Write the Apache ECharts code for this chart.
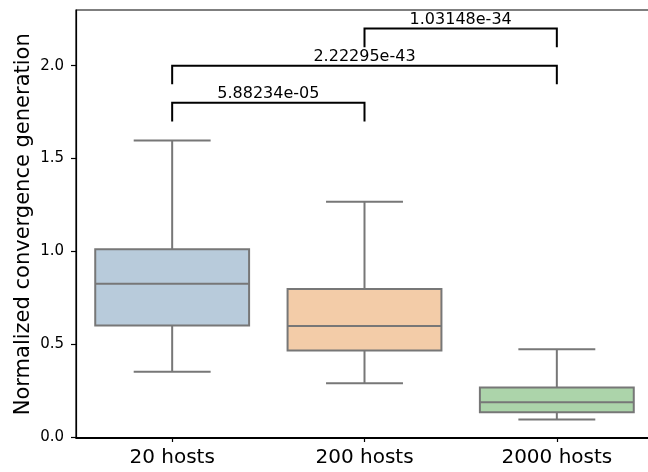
<!DOCTYPE html>
<html>
<head>
<meta charset="utf-8">
<script src="https://cdn.jsdelivr.net/npm/echarts@6/dist/echarts.min.js"></script>
<style>
html,body{margin:0;padding:0;background:#fff;}
#chart{width:648px;height:472px;}
</style>
</head>
<body>
<div id="chart"></div>
<script>
// ---- data ----
const categories = ['20 hosts', '200 hosts', '2000 hosts'];
const whiskerLow = [0.351, 0.289, 0.095];
const q1 = [0.600, 0.466, 0.134];
const median = [0.826, 0.598, 0.187];
const q3 = [1.011, 0.797, 0.267];
const whiskerHigh = [1.597, 1.267, 0.473];
const boxColors = ['#b8cbdb', '#f3cca8', '#acd4aa'];

const bracketFrom = [0, 0, 1];
const bracketTo = [1, 2, 2];
const bracketTop = [1.8, 2.0, 2.2];
const bracketLeg = [1.7, 1.9, 2.1];
const bracketLabels = ['5.88234e-05', '2.22295e-43', '1.03148e-34'];

const yTicks = [0, 0.5, 1.0, 1.5, 2.0];
const yMin = -0.008, yMax = 2.30;

// ---- chart ----
const FONT = 'DejaVu Sans';
const chart = echarts.init(document.getElementById('chart'), null, {renderer: 'canvas'});

const boxData = categories.map((c, i) => [i, whiskerLow[i], q1[i], median[i], q3[i], whiskerHigh[i]]);
const bracketData = bracketLabels.map((l, i) => [bracketFrom[i], bracketTo[i], bracketTop[i], bracketLeg[i]]);

const lineCol = '#777777';

function renderBox(params, api) {
  const idx = api.value(0);
  const lo = api.coord([idx, api.value(1)]);
  const b1 = api.coord([idx, api.value(2)]);
  const md = api.coord([idx, api.value(3)]);
  const b3 = api.coord([idx, api.value(4)]);
  const hi = api.coord([idx, api.value(5)]);
  const band = api.size([1, 0])[0];
  const bw = band * 0.8;
  const cw = bw / 2;
  const x = lo[0];
  const st = {stroke: lineCol, lineWidth: 2, fill: null};
  return {
    type: 'group',
    children: [
      {type: 'line', shape: {x1: x, y1: b1[1], x2: x, y2: lo[1]}, style: st},
      {type: 'line', shape: {x1: x, y1: b3[1], x2: x, y2: hi[1]}, style: st},
      {type: 'line', shape: {x1: x - cw / 2, y1: lo[1], x2: x + cw / 2, y2: lo[1]}, style: st},
      {type: 'line', shape: {x1: x - cw / 2, y1: hi[1], x2: x + cw / 2, y2: hi[1]}, style: st},
      {type: 'rect', shape: {x: x - bw / 2, y: b3[1], width: bw, height: b1[1] - b3[1]},
        style: {fill: boxColors[params.dataIndex], stroke: lineCol, lineWidth: 2}},
      {type: 'line', shape: {x1: x - bw / 2, y1: md[1], x2: x + bw / 2, y2: md[1]}, style: st}
    ]
  };
}

function renderBracket(params, api) {
  const a = api.value(0), b = api.value(1);
  const top = api.value(2), leg = api.value(3);
  const p1 = api.coord([a, leg]);
  const p2 = api.coord([a, top]);
  const p3 = api.coord([b, top]);
  const p4 = api.coord([b, leg]);
  return {
    type: 'group',
    children: [
      {type: 'polyline', shape: {points: [p1, p2, p3, p4]},
        style: {stroke: '#000', lineWidth: 2, fill: null}},
      {type: 'text', x: (p2[0] + p3[0]) / 2, y: p2[1] - 1,
        style: {text: bracketLabels[params.dataIndex], fill: '#000', font: '16px "' + FONT + '"',
          textAlign: 'center', textVerticalAlign: 'bottom'}}
    ]
  };
}

chart.setOption({
  animation: false,
  backgroundColor: '#fff',
  grid: {left: 76, top: 10, right: -5, bottom: 33.5, outerBoundsMode: 'none', containLabel: false,
    show: true, borderColor: '#000', borderWidth: 1.2, backgroundColor: 'transparent'},
  xAxis: {
    type: 'category',
    data: categories,
    boundaryGap: true,
    axisLine: {show: true, lineStyle: {color: '#000', width: 1.2}},
    axisTick: {show: true, alignWithLabel: true, length: 5, lineStyle: {color: '#000', width: 1.2}},
    axisLabel: {color: '#000', fontSize: 20, fontFamily: FONT, margin: 9},
    splitLine: {show: false}
  },
  yAxis: {
    type: 'value',
    min: yMin, max: yMax,
    name: 'Normalized convergence generation',
    nameLocation: 'middle',
    nameGap: 42,
    nameMoveOverlap: false,
    nameTextStyle: {color: '#000', fontSize: 21, fontFamily: FONT},
    axisLine: {show: true, lineStyle: {color: '#000', width: 1.2}},
    axisTick: {show: true, length: 5, customValues: yTicks, lineStyle: {color: '#000', width: 1.2}},
    axisLabel: {color: '#000', fontSize: 15, fontFamily: FONT, margin: 12, customValues: yTicks,
      formatter: v => Number(v).toFixed(1)},
    splitLine: {show: false}
  },
  series: [
    {type: 'custom', renderItem: renderBox, data: boxData, encode: {x: 0, y: [1, 2, 3, 4, 5]}, z: 2},
    {type: 'custom', renderItem: renderBracket, data: bracketData, encode: {x: [0, 1], y: [2, 3]}, z: 3}
  ]
});
</script>
</body>
</html>
